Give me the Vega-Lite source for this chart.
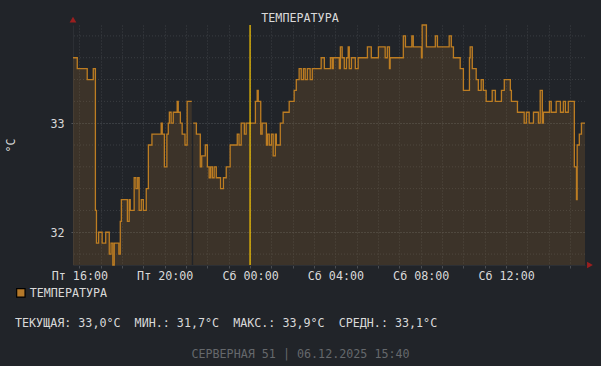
{
  "$schema": "https://vega.github.io/schema/vega-lite/v6.json",
  "width": 512,
  "height": 240,
  "autosize": {"type": "none"},
  "padding": {"left": 73, "top": 25, "right": 16, "bottom": 101},
  "background": "#212429",
  "config": {
    "font": "DejaVu Sans Mono",
    "view": {"stroke": null}
  },
  "title": {
    "text": "ТЕМПЕРАТУРА",
    "fontSize": 11.7,
    "fontWeight": "normal",
    "color": "#d9d9d9",
    "anchor": "middle",
    "dx": -29,
    "dy": 12,
    "offset": 4
  },
  "datasets": {
    "series": [
      {"time": "2025-12-05T15:42:00", "temp": 33.6},
      {"time": "2025-12-05T15:54:00", "temp": 33.5},
      {"time": "2025-12-05T16:22:00", "temp": 33.4},
      {"time": "2025-12-05T16:39:00", "temp": 33.5},
      {"time": "2025-12-05T16:45:00", "temp": 32.2},
      {"time": "2025-12-05T16:48:00", "temp": 31.9},
      {"time": "2025-12-05T16:54:00", "temp": 32.0},
      {"time": "2025-12-05T17:04:00", "temp": 31.9},
      {"time": "2025-12-05T17:14:00", "temp": 32.0},
      {"time": "2025-12-05T17:24:00", "temp": 31.8},
      {"time": "2025-12-05T17:29:00", "temp": 31.9},
      {"time": "2025-12-05T17:34:00", "temp": 31.7},
      {"time": "2025-12-05T17:38:00", "temp": 31.9},
      {"time": "2025-12-05T17:51:00", "temp": 31.8},
      {"time": "2025-12-05T17:55:00", "temp": 32.1},
      {"time": "2025-12-05T17:58:00", "temp": 32.3},
      {"time": "2025-12-05T18:15:00", "temp": 32.1},
      {"time": "2025-12-05T18:20:00", "temp": 32.3},
      {"time": "2025-12-05T18:23:00", "temp": 32.2},
      {"time": "2025-12-05T18:34:00", "temp": 32.5},
      {"time": "2025-12-05T18:39:00", "temp": 32.4},
      {"time": "2025-12-05T18:44:00", "temp": 32.5},
      {"time": "2025-12-05T18:48:00", "temp": 32.2},
      {"time": "2025-12-05T18:54:00", "temp": 32.3},
      {"time": "2025-12-05T19:00:00", "temp": 32.2},
      {"time": "2025-12-05T19:08:00", "temp": 32.4},
      {"time": "2025-12-05T19:14:00", "temp": 32.8},
      {"time": "2025-12-05T19:24:00", "temp": 32.9},
      {"time": "2025-12-05T19:50:00", "temp": 33.0},
      {"time": "2025-12-05T19:53:00", "temp": 32.9},
      {"time": "2025-12-05T19:59:00", "temp": 32.6},
      {"time": "2025-12-05T20:06:00", "temp": 32.9},
      {"time": "2025-12-05T20:10:00", "temp": 33.0},
      {"time": "2025-12-05T20:13:00", "temp": 33.1},
      {"time": "2025-12-05T20:18:00", "temp": 33.0},
      {"time": "2025-12-05T20:24:00", "temp": 33.1},
      {"time": "2025-12-05T20:35:00", "temp": 33.2},
      {"time": "2025-12-05T20:38:00", "temp": 33.1},
      {"time": "2025-12-05T20:44:00", "temp": 33.0},
      {"time": "2025-12-05T20:49:00", "temp": 32.9},
      {"time": "2025-12-05T20:57:00", "temp": 32.8},
      {"time": "2025-12-05T21:03:00", "temp": 33.2},
      {"time": "2025-12-05T21:16:00", "temp": 33.2},
      {"time": "2025-12-05T21:17:00", "temp": null},
      {"time": "2025-12-05T21:20:00", "temp": 33.0},
      {"time": "2025-12-05T21:29:00", "temp": 32.9},
      {"time": "2025-12-05T21:40:00", "temp": 32.6},
      {"time": "2025-12-05T21:44:00", "temp": 32.7},
      {"time": "2025-12-05T21:54:00", "temp": 32.8},
      {"time": "2025-12-05T22:00:00", "temp": 32.6},
      {"time": "2025-12-05T22:05:00", "temp": 32.5},
      {"time": "2025-12-05T22:09:00", "temp": 32.6},
      {"time": "2025-12-05T22:14:00", "temp": 32.5},
      {"time": "2025-12-05T22:19:00", "temp": 32.6},
      {"time": "2025-12-05T22:25:00", "temp": 32.5},
      {"time": "2025-12-05T22:37:00", "temp": 32.4},
      {"time": "2025-12-05T22:45:00", "temp": 32.5},
      {"time": "2025-12-05T22:53:00", "temp": 32.6},
      {"time": "2025-12-05T23:04:00", "temp": 32.8},
      {"time": "2025-12-05T23:24:00", "temp": 32.9},
      {"time": "2025-12-05T23:29:00", "temp": 32.8},
      {"time": "2025-12-05T23:35:00", "temp": 33.0},
      {"time": "2025-12-05T23:44:00", "temp": 32.9},
      {"time": "2025-12-05T23:49:00", "temp": 33.0},
      {"time": "2025-12-06T00:15:00", "temp": 33.2},
      {"time": "2025-12-06T00:20:00", "temp": 33.3},
      {"time": "2025-12-06T00:23:00", "temp": 33.2},
      {"time": "2025-12-06T00:30:00", "temp": 32.9},
      {"time": "2025-12-06T00:34:00", "temp": 33.0},
      {"time": "2025-12-06T00:46:00", "temp": 32.8},
      {"time": "2025-12-06T00:49:00", "temp": 32.9},
      {"time": "2025-12-06T00:54:00", "temp": 32.8},
      {"time": "2025-12-06T01:00:00", "temp": 32.9},
      {"time": "2025-12-06T01:05:00", "temp": 32.7},
      {"time": "2025-12-06T01:11:00", "temp": 32.9},
      {"time": "2025-12-06T01:14:00", "temp": 32.8},
      {"time": "2025-12-06T01:25:00", "temp": 33.0},
      {"time": "2025-12-06T01:33:00", "temp": 33.1},
      {"time": "2025-12-06T01:50:00", "temp": 33.2},
      {"time": "2025-12-06T02:04:00", "temp": 33.3},
      {"time": "2025-12-06T02:10:00", "temp": 33.4},
      {"time": "2025-12-06T02:18:00", "temp": 33.5},
      {"time": "2025-12-06T02:24:00", "temp": 33.4},
      {"time": "2025-12-06T02:30:00", "temp": 33.5},
      {"time": "2025-12-06T02:35:00", "temp": 33.4},
      {"time": "2025-12-06T02:41:00", "temp": 33.5},
      {"time": "2025-12-06T02:49:00", "temp": 33.4},
      {"time": "2025-12-06T02:55:00", "temp": 33.5},
      {"time": "2025-12-06T03:20:00", "temp": 33.6},
      {"time": "2025-12-06T03:29:00", "temp": 33.5},
      {"time": "2025-12-06T03:46:00", "temp": 33.6},
      {"time": "2025-12-06T03:51:00", "temp": 33.5},
      {"time": "2025-12-06T03:54:00", "temp": 33.6},
      {"time": "2025-12-06T04:11:00", "temp": 33.5},
      {"time": "2025-12-06T04:14:00", "temp": 33.7},
      {"time": "2025-12-06T04:19:00", "temp": 33.6},
      {"time": "2025-12-06T04:25:00", "temp": 33.5},
      {"time": "2025-12-06T04:31:00", "temp": 33.6},
      {"time": "2025-12-06T04:36:00", "temp": 33.7},
      {"time": "2025-12-06T04:39:00", "temp": 33.5},
      {"time": "2025-12-06T04:45:00", "temp": 33.6},
      {"time": "2025-12-06T04:56:00", "temp": 33.5},
      {"time": "2025-12-06T05:04:00", "temp": 33.6},
      {"time": "2025-12-06T05:30:00", "temp": 33.7},
      {"time": "2025-12-06T05:41:00", "temp": 33.6},
      {"time": "2025-12-06T06:01:00", "temp": 33.7},
      {"time": "2025-12-06T06:20:00", "temp": 33.6},
      {"time": "2025-12-06T06:26:00", "temp": 33.7},
      {"time": "2025-12-06T06:32:00", "temp": 33.5},
      {"time": "2025-12-06T06:34:00", "temp": 33.6},
      {"time": "2025-12-06T07:11:00", "temp": 33.8},
      {"time": "2025-12-06T07:17:00", "temp": 33.7},
      {"time": "2025-12-06T07:35:00", "temp": 33.8},
      {"time": "2025-12-06T07:39:00", "temp": 33.7},
      {"time": "2025-12-06T08:02:00", "temp": 33.6},
      {"time": "2025-12-06T08:04:00", "temp": 33.9},
      {"time": "2025-12-06T08:16:00", "temp": 33.7},
      {"time": "2025-12-06T08:41:00", "temp": 33.8},
      {"time": "2025-12-06T08:47:00", "temp": 33.7},
      {"time": "2025-12-06T09:20:00", "temp": 33.8},
      {"time": "2025-12-06T09:26:00", "temp": 33.7},
      {"time": "2025-12-06T09:32:00", "temp": 33.6},
      {"time": "2025-12-06T09:51:00", "temp": 33.5},
      {"time": "2025-12-06T10:00:00", "temp": 33.3},
      {"time": "2025-12-06T10:17:00", "temp": 33.6},
      {"time": "2025-12-06T10:19:00", "temp": 33.7},
      {"time": "2025-12-06T10:25:00", "temp": 33.5},
      {"time": "2025-12-06T10:36:00", "temp": 33.4},
      {"time": "2025-12-06T10:42:00", "temp": 33.3},
      {"time": "2025-12-06T10:50:00", "temp": 33.4},
      {"time": "2025-12-06T10:56:00", "temp": 33.3},
      {"time": "2025-12-06T11:04:00", "temp": 33.2},
      {"time": "2025-12-06T11:21:00", "temp": 33.3},
      {"time": "2025-12-06T11:30:00", "temp": 33.2},
      {"time": "2025-12-06T11:47:00", "temp": 33.3},
      {"time": "2025-12-06T11:55:00", "temp": 33.4},
      {"time": "2025-12-06T12:12:00", "temp": 33.3},
      {"time": "2025-12-06T12:15:00", "temp": 33.2},
      {"time": "2025-12-06T12:32:00", "temp": 33.1},
      {"time": "2025-12-06T12:51:00", "temp": 33.0},
      {"time": "2025-12-06T12:57:00", "temp": 33.1},
      {"time": "2025-12-06T13:05:00", "temp": 33.0},
      {"time": "2025-12-06T13:17:00", "temp": 33.1},
      {"time": "2025-12-06T13:31:00", "temp": 33.0},
      {"time": "2025-12-06T13:36:00", "temp": 33.3},
      {"time": "2025-12-06T13:42:00", "temp": 33.0},
      {"time": "2025-12-06T13:45:00", "temp": 33.1},
      {"time": "2025-12-06T14:02:00", "temp": 33.2},
      {"time": "2025-12-06T14:07:00", "temp": 33.1},
      {"time": "2025-12-06T14:21:00", "temp": 33.2},
      {"time": "2025-12-06T14:33:00", "temp": 33.1},
      {"time": "2025-12-06T14:41:00", "temp": 33.2},
      {"time": "2025-12-06T14:47:00", "temp": 33.1},
      {"time": "2025-12-06T14:55:00", "temp": 33.2},
      {"time": "2025-12-06T15:12:00", "temp": 32.6},
      {"time": "2025-12-06T15:18:00", "temp": 32.3},
      {"time": "2025-12-06T15:20:00", "temp": 32.8},
      {"time": "2025-12-06T15:26:00", "temp": 32.9},
      {"time": "2025-12-06T15:32:00", "temp": 33.0},
      {"time": "2025-12-06T15:42:00", "temp": 33.0}
    ],
    "minorgrid": [
      {"temp": 31.8},
      {"temp": 32.2},
      {"temp": 32.4},
      {"temp": 32.6},
      {"temp": 32.8},
      {"temp": 33.2},
      {"temp": 33.4},
      {"temp": 33.6},
      {"temp": 33.8}
    ],
    "vrule": [
      {"time": "2025-12-06T00:00:00"}
    ],
    "arrows": [
      {"time": "2025-12-05T15:42:00", "temp": 33.95, "dir": "up"},
      {"time": "2025-12-06T15:56:00", "temp": 31.7, "dir": "right"}
    ]
  },
  "layer": [
    {
      "data": {"name": "minorgrid"},
      "mark": {"type": "rule", "color": "#3a3d42", "strokeWidth": 1, "strokeDash": [1, 2]},
      "encoding": {
        "y": {"field": "temp", "type": "quantitative"}
      }
    },
    {
      "data": {"name": "series"},
      "mark": {"type": "area", "interpolate": "step-after", "fillOpacity": 0.18, "clip": true},
      "encoding": {
        "x": {
          "field": "time",
          "type": "temporal",
          "scale": {"domain": ["2025-12-05T15:42:00", "2025-12-06T15:42:00"]},
          "axis": {
            "tickCount": 24,
            "grid": true,
            "gridDash": [1, 2],
            "gridColor": "#3c3f44",
            "tickSize": 3,
            "tickColor": "#4a4d52",
            "labelExpr": "hours(datum.value) % 4 == 0 ? ((day(datum.value) == 5 ? 'Пт' : 'Сб') + ' ' + timeFormat(datum.value, '%H:%M')) : ''",
            "labelOverlap": false,
            "labelFlush": false,
            "labelFontSize": 11.7,
            "labelColor": "#d9d9d9",
            "labelPadding": 2,
            "domainColor": "#2c2f34",
            "title": "СЕРВЕРНАЯ 51 | 06.12.2025 15:40",
            "titleX": 227,
            "titleY": 88,
            "titleAlign": "center",
            "titleBaseline": "middle",
            "titleFontSize": 11.7,
            "titleFontWeight": "normal",
            "titleColor": "#65686c"
          }
        },
        "y": {
          "field": "temp",
          "type": "quantitative",
          "scale": {"domain": [31.7, 33.9], "nice": false, "zero": false},
          "axis": {
            "values": [32, 33],
            "format": "d",
            "grid": true,
            "gridDash": [1, 2],
            "gridColor": "#53565c",
            "tickSize": 2,
            "tickColor": "#53565c",
            "labelOverlap": false,
            "labelFontSize": 11.7,
            "labelColor": "#d9d9d9",
            "labelPadding": 7,
            "domainColor": "#2c2f34",
            "title": "°C",
            "titleX": -63,
            "titleY": 120,
            "titleAngle": -90,
            "titleAlign": "center",
            "titleBaseline": "middle",
            "titleFontSize": 11.7,
            "titleFontWeight": "normal",
            "titleColor": "#d9d9d9"
          }
        },
        "color": {
          "datum": "ТЕМПЕРАТУРА",
          "type": "nominal",
          "scale": {"range": ["#b5792a"]},
          "legend": {
            "orient": "none",
            "legendX": -58,
            "legendY": 262,
            "symbolType": "square",
            "symbolSize": 70,
            "labelFontSize": 11.7,
            "labelColor": "#d9d9d9",
            "labelOffset": 3,
            "title": "ТЕКУЩАЯ: 33,0°C\u00a0\u00a0МИН.: 31,7°C\u00a0\u00a0МАКС.: 33,9°C\u00a0\u00a0СРЕДН.: 33,1°C",
            "titleOrient": "bottom",
            "titleFontSize": 11.7,
            "titleFontWeight": "normal",
            "titleColor": "#d9d9d9",
            "titlePadding": 18,
            "titleLimit": 600,
            "symbolStrokeColor": "#000000",
            "symbolStrokeWidth": 1.2,
            "symbolOpacity": 1
          }
        }
      }
    },
    {
      "data": {"name": "series"},
      "mark": {"type": "line", "interpolate": "step-after", "color": "#bd7d22", "strokeWidth": 1.3},
      "encoding": {
        "x": {"field": "time", "type": "temporal"},
        "y": {"field": "temp", "type": "quantitative"}
      }
    },
    {
      "data": {"name": "vrule"},
      "mark": {"type": "rule", "color": "#ffcc00", "strokeWidth": 1.2},
      "encoding": {
        "x": {"field": "time", "type": "temporal"}
      }
    },
    {
      "data": {"name": "arrows"},
      "mark": {"type": "point", "filled": true, "opacity": 1, "color": "#9a1f1f", "size": 45},
      "encoding": {
        "x": {"field": "time", "type": "temporal"},
        "y": {"field": "temp", "type": "quantitative"},
        "shape": {
          "field": "dir",
          "type": "nominal",
          "scale": {"domain": ["up", "right"], "range": ["triangle-up", "triangle-right"]},
          "legend": null
        }
      }
    }
  ]
}
